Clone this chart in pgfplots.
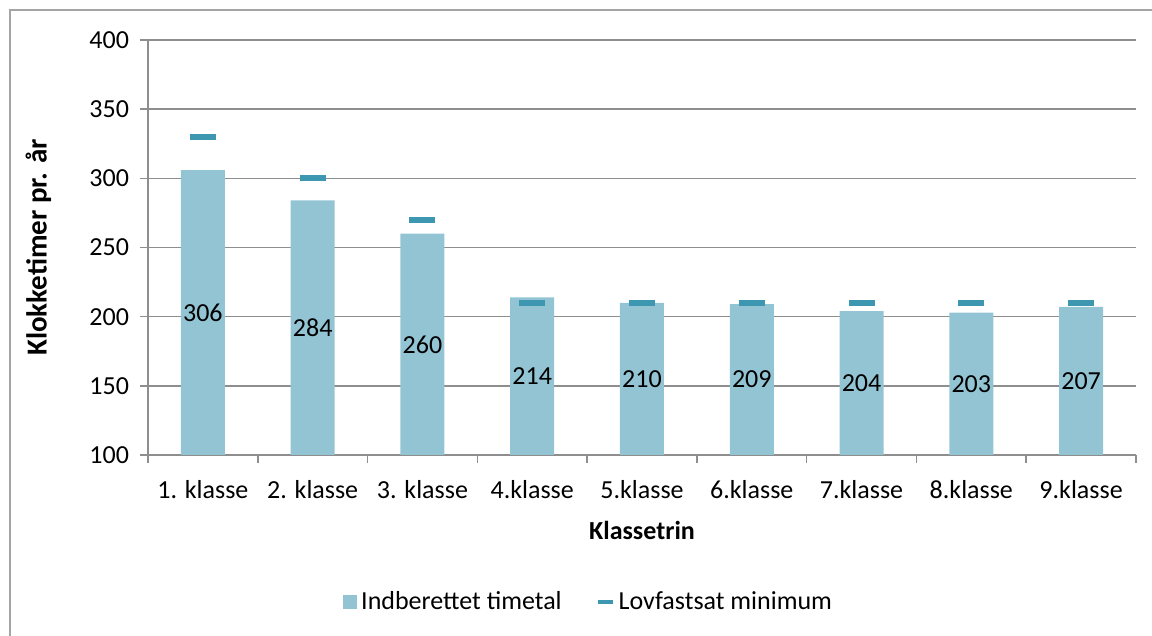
\documentclass[border=0pt]{standalone}
\usepackage{fontspec}
\setmainfont{Carlito}
\usepackage{pgfplots}
\usepackage{pgfplotstable}
\pgfplotsset{compat=1.18}

\definecolor{barblue}{HTML}{93C4D4}
\definecolor{mindash}{HTML}{3E97B1}
\definecolor{gridgray}{HTML}{8E8E8E}
\newcommand\cf{\fontsize{13}{15.6}\selectfont}

% x = category index, val = reported hours, mid = label position, minimum = legal minimum
\pgfplotstableread{
x val mid minimum
0 306 203   330
1 284 192   300
2 260 180   270
3 214 157   210
4 210 155   210
5 209 154.5 210
6 204 152   210
7 203 151.5 210
8 207 153.5 210
}\timedata

\begin{document}
\begin{tikzpicture}[x=1pt,y=1pt]
\useasboundingbox (0,0) rectangle (576,318);
\draw[gridgray!80, line width=0.8pt] (5,0) -- (5,313) -- (576,313);
\begin{axis}[
    at={(74pt,90.5pt)}, anchor=south west,
    scale only axis, width=494pt, height=207.5pt,
    xmin=-0.5, xmax=8.5, ymin=100, ymax=400,
    axis x line*=bottom, axis y line*=left,
    axis line style={gridgray, line width=0.8pt, -},
    ytick={100,150,...,400},
    xtick={0,...,8},
    xticklabels={1. klasse, 2. klasse, 3. klasse, 4.klasse, 5.klasse, 6.klasse, 7.klasse, 8.klasse, 9.klasse},
    minor xtick={-0.5,0.5,...,8.5},
    tick align=outside,
    major tick length=4pt, minor tick length=4pt,
    major x tick style={draw=none},
    minor x tick style={draw=gridgray, line width=0.8pt},
    ytick style={draw=gridgray, line width=0.8pt},
    ymajorgrids, grid style={gridgray, line width=0.8pt},
    /pgf/number format/assume math mode=true,
    tick label style={font=\cf},
    xticklabel style={yshift=-5pt},
    yticklabel style={xshift=-2pt},
    xlabel={Klassetrin}, ylabel={Klokketimer pr. år},
    xlabel style={at={(0.5,-0.181)}, anchor=center, font=\cf\bfseries},
    ylabel style={at={(-0.111,0.5)}, anchor=center, font=\fontsize{14.5}{17}\selectfont\bfseries},
    legend style={at={(0.447,-0.354)}, anchor=center, draw=none, font=\cf,
        legend columns=2,
        /tikz/every even column/.append style={column sep=15pt}},
]
\addplot[ybar, bar width=22pt, bar shift=0pt, fill=barblue, draw=none,
    legend image code/.code={\fill[barblue] (0pt,-3.5pt) rectangle (7pt,3.5pt);}]
    table[x=x, y=val]{\timedata};
\addlegendentry{Indberettet timetal}
\addplot[only marks, mark=-, mark size=6.5pt,
    mark options={line width=3pt, draw=mindash, line cap=butt},
    legend image code/.code={\draw[mindash, line width=2pt] (0pt,0pt) -- (7.5pt,0pt);}]
    table[x=x, y=minimum]{\timedata};
\addlegendentry{Lovfastsat minimum}
\addplot[draw=none, mark=none, forget plot, nodes near coords, point meta=explicit,
    every node near coord/.append style={anchor=center, font=\cf, text=black}]
    table[x=x, y=mid, meta=val]{\timedata};
\end{axis}
\end{tikzpicture}
\end{document}
